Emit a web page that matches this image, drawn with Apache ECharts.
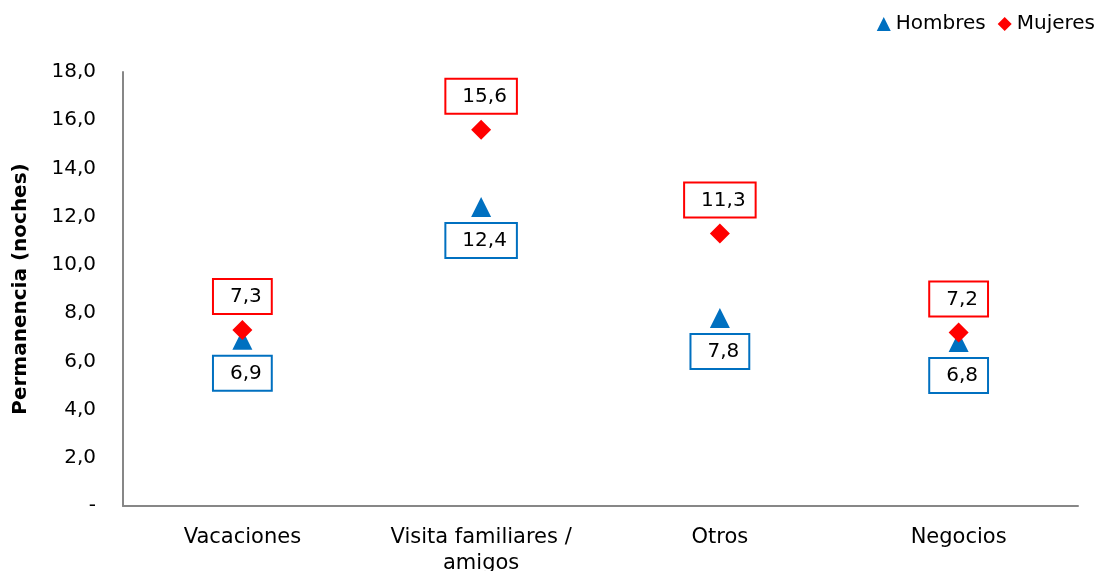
<!DOCTYPE html>
<html>
<head>
<meta charset="utf-8">
<script src="https://cdn.jsdelivr.net/npm/echarts@6/dist/echarts.min.js"></script>
<style>html,body{margin:0;padding:0;background:#fff;}#c{width:1103px;height:571px;}</style>
</head>
<body>
<div id="c"></div>
<script>
const categories = ['Vacaciones', 'Visita familiares /\namigos', 'Otros', 'Negocios'];
const hombres = [6.9, 12.4, 7.8, 6.8];
const mujeres = [7.3, 15.6, 11.3, 7.2];
const yMin = 0, yMax = 18, yInterval = 2;

const FONT = '"DejaVu Sans", Verdana, sans-serif';
const fmt = v => v.toFixed(1).replace('.', ',');

function labelStyle(color, pos) {
  return {
    show: true,
    position: pos,
    distance: 7,
    formatter: p => fmt(p.value),
    fontFamily: FONT,
    fontSize: 20,
    color: '#000',
    backgroundColor: '#fff',
    borderColor: color,
    borderWidth: 2,
    lineHeight: 22,
    padding: [6, 9, 5, 16]
  };
}

const chart = echarts.init(document.getElementById('c'));
chart.setOption({
  animation: false,
  grid: { left: 123, right: 25, top: 72, bottom: 65, outerBoundsMode: 'none', containLabel: false },
  legend: {
    right: 3, top: 9,
    itemWidth: 14, itemHeight: 14, itemGap: 12,
    textStyle: { fontFamily: FONT, fontSize: 20, color: '#000' },
    data: ['Hombres', 'Mujeres']
  },
  xAxis: {
    type: 'category',
    data: categories,
    boundaryGap: true,
    axisLine: { lineStyle: { color: '#878787', width: 2 } },
    axisTick: { show: false },
    axisLabel: { fontFamily: FONT, fontSize: 21, color: '#000', margin: 19, lineHeight: 26, interval: 0 }
  },
  yAxis: {
    type: 'value',
    min: yMin, max: yMax, interval: yInterval,
    name: 'Permanencia (noches)',
    nameLocation: 'middle',
    nameGap: 92,
    nameTextStyle: { fontFamily: FONT, fontSize: 20, fontWeight: 'bold', color: '#000' },
    axisLine: { show: true, lineStyle: { color: '#878787', width: 2 } },
    axisTick: { show: false },
    splitLine: { show: false },
    axisLabel: {
      fontFamily: FONT, fontSize: 20, color: '#000', margin: 27,
      formatter: v => v === 0 ? '-' : fmt(v)
    }
  },
  series: [
    {
      name: 'Hombres', type: 'scatter', data: hombres,
      symbol: 'triangle', symbolSize: 20,
      itemStyle: { color: '#0070C0', opacity: 1 },
      label: labelStyle('#0070C0', 'bottom'),
      emphasis: { disabled: true },
      z: 2
    },
    {
      name: 'Mujeres', type: 'scatter', data: mujeres,
      symbol: 'diamond', symbolSize: 20,
      itemStyle: { color: '#FF0000', opacity: 1 },
      label: labelStyle('#FF0000', 'top'),
      emphasis: { disabled: true },
      z: 3
    }
  ]
});
</script>
</body>
</html>
